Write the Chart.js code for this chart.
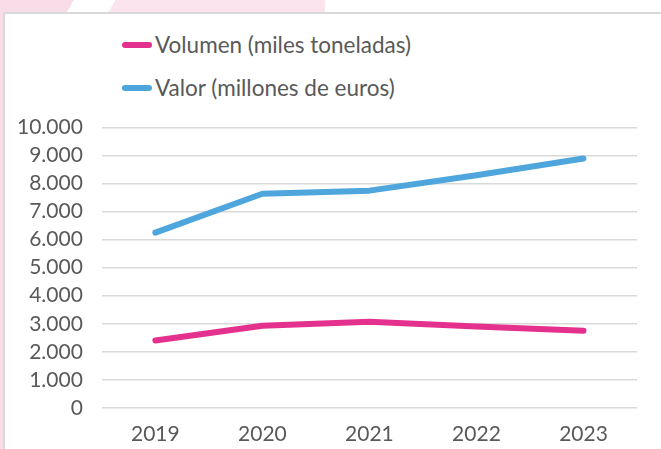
<!DOCTYPE html>
<html lang="es">
<head>
    <meta charset="UTF-8">
    <title>Volumen y valor</title>
    <script src="https://cdn.jsdelivr.net/npm/chart.js"></script>
    <style>
        body {
            margin: 0;
            padding: 0;
            width: 661px;
            height: 449px;
            background: #ffffff;
            overflow: hidden;
            position: relative;
            font-family: Lato, "Noto Sans", sans-serif;
        }
        .deco {
            position: absolute;
            left: 0;
            top: 0;
            width: 325px;
            height: 12px;
            background: linear-gradient(120deg, #f8dde9 0 64px, #ffffff 64px 100px, #fbe4ee 100px);
        }
        .deco-left {
            position: absolute;
            left: 0;
            top: 0;
            width: 3px;
            height: 449px;
            background: #f8dde9;
        }
        .box {
            position: absolute;
            left: 3px;
            top: 12px;
            width: 658px;
            height: 437px;
            border-top: 2px solid #d9d9d9;
            border-left: 2px solid #d9d9d9;
            background: #ffffff;
            box-sizing: border-box;
        }
        .legend {
            position: absolute;
            left: 122px;
            top: 23px;
            color: #595959;
            font-size: 22.5px;
        }
        .legend div {
            height: 43px;
            display: flex;
            align-items: center;
        }
        .legend span.swatch {
            display: inline-block;
            width: 30px;
            height: 6px;
            border-radius: 3px;
            margin-right: 3px;
        }
        #chartWrap {
            position: absolute;
            left: -2px;
            top: 96px;
            width: 663px;
            height: 365px;
        }
    </style>
</head>
<body>
    <div class="deco"></div>
    <div class="deco-left"></div>
    <div class="box"></div>

    <!-- Legend -->
    <div class="legend">
        <div><span class="swatch" style="background:#e5318e"></span>Volumen (miles toneladas)</div>
        <div><span class="swatch" style="background:#4fa6dc"></span>Valor (millones de euros)</div>
    </div>

    <div id="chartWrap"><canvas id="chart"></canvas></div>

    <script>
        const years = ['2019', '2020', '2021', '2022', '2023'];
        const volumen = [2400, 2930, 3070, 2900, 2750];
        const valor = [6250, 7640, 7750, 8300, 8900];

        new Chart(document.getElementById('chart'), {
            type: 'line',
            data: {
                labels: years,
                datasets: [{
                    label: 'Volumen (miles toneladas)',
                    data: volumen,
                    borderColor: '#e5318e',
                    borderWidth: 6,
                    pointRadius: 0,
                    borderCapStyle: 'round',
                    borderJoinStyle: 'round',
                    tension: 0
                }, {
                    label: 'Valor (millones de euros)',
                    data: valor,
                    borderColor: '#4fa6dc',
                    borderWidth: 6,
                    pointRadius: 0,
                    borderCapStyle: 'round',
                    borderJoinStyle: 'round',
                    tension: 0
                }]
            },
            options: {
                responsive: true,
                maintainAspectRatio: false,
                animation: false,
                layout: {
                    padding: { left: 0, right: 24, top: 3, bottom: 0 }
                },
                plugins: {
                    legend: { display: false },
                    tooltip: { enabled: false }
                },
                scales: {
                    x: {
                        offset: true,
                        grid: { display: false, drawTicks: false },
                        border: { display: false },
                        ticks: {
                            color: '#595959',
                            font: { family: 'Lato', size: 21 },
                            padding: 14
                        }
                    },
                    y: {
                        min: 0,
                        max: 10000,
                        grid: { color: '#d9d9d9', lineWidth: 1.5, drawTicks: false },
                        border: { display: false },
                        ticks: {
                            stepSize: 1000,
                            autoSkip: false,
                            color: '#595959',
                            font: { family: 'Lato', size: 21 },
                            padding: 19,
                            callback: v => v.toLocaleString('de-DE')
                        }
                    }
                }
            }
        });
    </script>
</body>
</html>
